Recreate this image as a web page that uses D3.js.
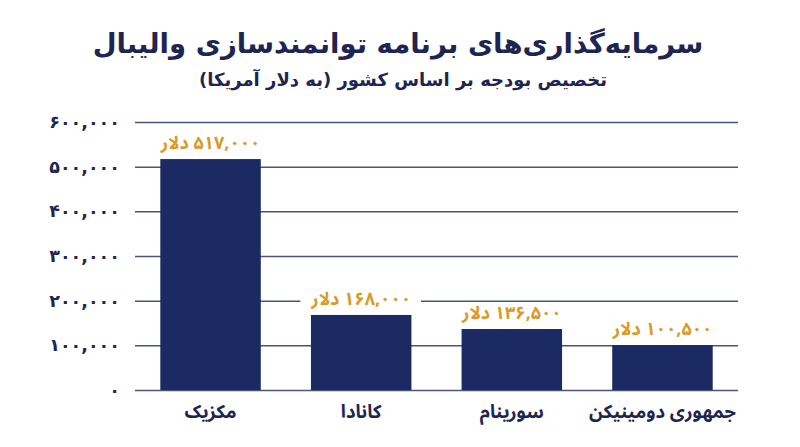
<!DOCTYPE html>
<html lang="fa">
<head>
<meta charset="utf-8">
<script src="https://cdn.jsdelivr.net/npm/d3@7"></script>
<style>
  body { margin: 0; background: #ffffff; }
  svg { display: block; font-family: "Noto Sans Arabic", "DejaVu Sans", sans-serif; }
</style>
</head>
<body>
<svg id="chart" width="800" height="447"></svg>
<script>
// chart values
var countries = ["مکزیک", "کانادا", "سورینام", "جمهوری دومینیکن"];
var budgets = [517000, 168000, 136500, 100500];
var yTicks = [0, 100000, 200000, 300000, 400000, 500000, 600000];
var title = "سرمایه‌گذاری‌های برنامه توانمندسازی والیبال";
var subtitle = "تخصیص بودجه بر اساس کشور (به دلار آمریکا)";
var unit = "دلار";

var colors = {
    bar: "#1b2a63",
    label: "#d99a2a",
    text: "#1f2552",
    grid: "#4b5577"
};

var margin = { top: 122, right: 62, bottom: 57, left: 135 };
var width = 800 - margin.left - margin.right;
var height = 447 - margin.top - margin.bottom;

// western digits -> persian digits, keep the comma
function fa(n) {
    return d3.format(",")(n).replace(/\d/g, function (d) { return "۰۱۲۳۴۵۶۷۸۹"[+d]; });
}

var svg = d3.select("#chart");

svg.append("text")
    .attr("x", 398).attr("y", 53)
    .attr("text-anchor", "middle")
    .attr("direction", "rtl")
    .attr("fill", colors.text)
    .attr("font-family", "'DejaVu Sans', sans-serif")
    .attr("font-size", 27.5).attr("font-weight", "bold")
    .text(title);

svg.append("text")
    .attr("x", 403).attr("y", 86)
    .attr("text-anchor", "middle")
    .attr("direction", "rtl")
    .attr("fill", colors.text)
    .attr("font-family", "'DejaVu Sans', sans-serif")
    .attr("font-size", 18).attr("font-weight", "bold")
    .text(subtitle);

var chart = svg.append("g")
    .attr("transform", "translate(" + margin.left + "," + margin.top + ")");

var x = d3.scaleBand()
    .domain(countries)
    .range([0, width])
    .paddingInner(0.333)
    .paddingOuter(0.168);

var y = d3.scaleLinear()
    .domain([0, 600000])
    .range([height, 0]);

// y axis with gridlines
var yAxis = chart.append("g")
    .call(d3.axisLeft(y).tickValues(yTicks).tickSize(-width).tickFormat(fa));
yAxis.select(".domain").remove();
yAxis.selectAll(".tick line")
    .attr("stroke", colors.grid)
    .attr("stroke-width", 1.5);
yAxis.selectAll(".tick text")
    .attr("x", -15)
    .attr("fill", colors.text)
    .attr("font-size", 17.5)
    .attr("font-weight", "bold")
    .attr("font-family", "'DejaVu Sans', sans-serif");

// bars
chart.append("g")
    .selectAll("rect")
    .data(budgets)
    .enter()
    .append("rect")
        .attr("x", function (d, i) { return x(countries[i]); })
        .attr("y", function (d) { return y(d); })
        .attr("width", x.bandwidth())
        .attr("height", function (d) { return height - y(d); })
        .attr("fill", colors.bar);

// value labels on a white box
var labels = chart.append("g")
    .selectAll("g")
    .data(budgets)
    .enter()
    .append("g")
        .attr("transform", function (d, i) {
            return "translate(" + (x(countries[i]) + x.bandwidth() / 2) + "," + (y(d) - 10) + ")";
        });

labels.append("rect").attr("fill", "#ffffff");
labels.append("text")
    .attr("text-anchor", "middle")
    .attr("direction", "rtl")
    .attr("fill", colors.label)
    .attr("font-size", 18)
    .attr("font-weight", "bold")
    .text(function (d) { return fa(d) + " " + unit; });

// box hugs the glyphs, not the tall line box of the font
labels.each(function () {
    var g = d3.select(this);
    var box = g.select("text").node().getBBox();
    g.select("rect")
        .attr("x", box.x - 10)
        .attr("y", -17)
        .attr("width", box.width + 20)
        .attr("height", 24);
});

// category labels
chart.append("g")
    .selectAll("text")
    .data(countries)
    .enter()
    .append("text")
        .attr("x", function (d) { return x(d) + x.bandwidth() / 2; })
        .attr("y", height + 28)
        .attr("text-anchor", "middle")
        .attr("direction", "rtl")
        .attr("fill", colors.text)
        .attr("font-size", 18.5)
        .attr("font-weight", "bold")
        .text(function (d) { return d; });
</script>
</body>
</html>
